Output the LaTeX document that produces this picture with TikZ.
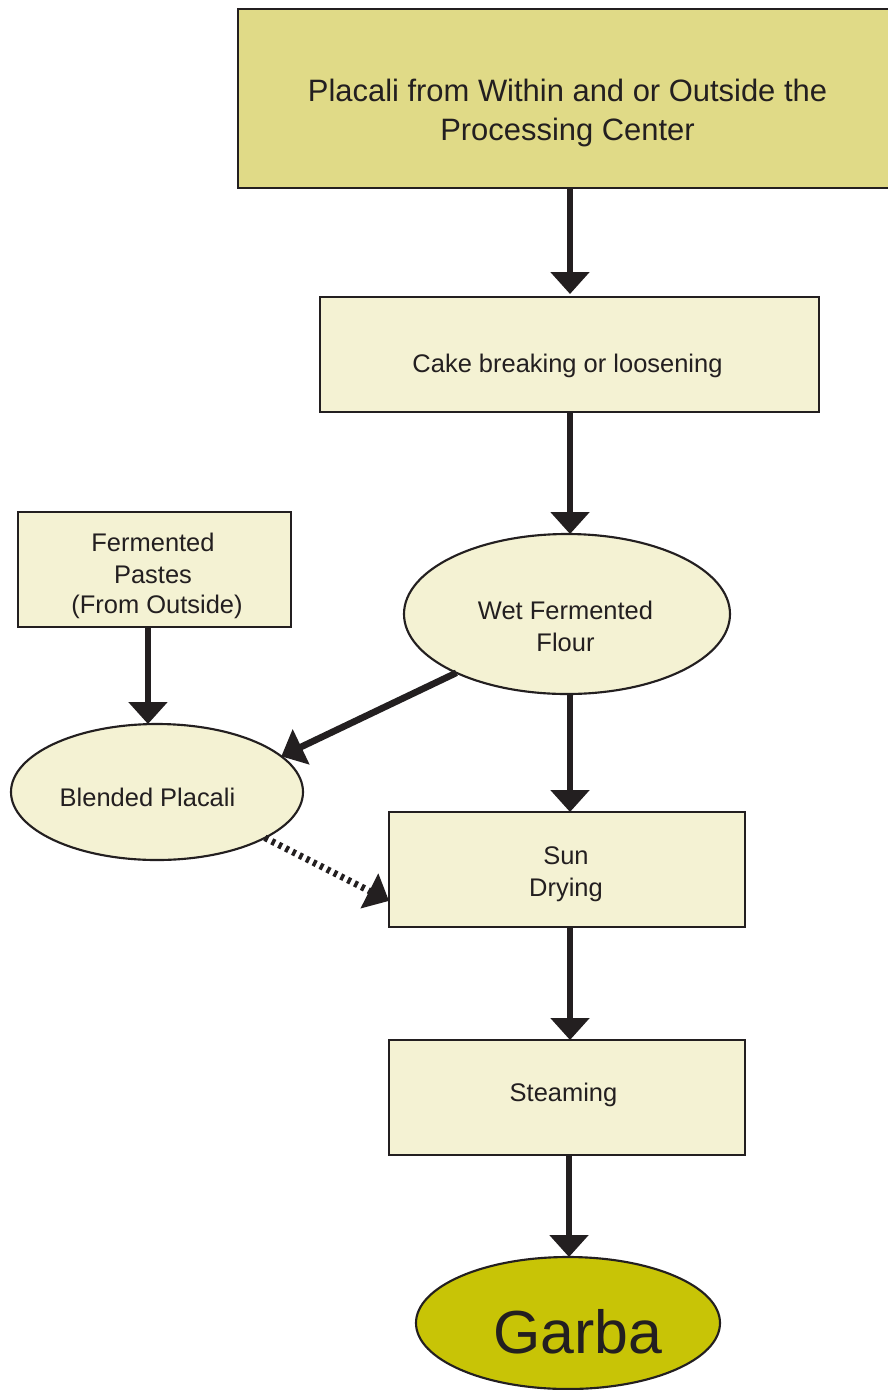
\documentclass[tikz,border=0pt]{standalone}
\usepackage{fontspec}
\setmainfont{Liberation Sans}
\usetikzlibrary{arrows.meta,shapes.geometric}
\definecolor{ink}{HTML}{231F20}
\definecolor{topfill}{HTML}{E0DA87}
\definecolor{lightfill}{HTML}{F4F2D3}
\definecolor{garbafill}{HTML}{C8C406}
\begin{document}
\begin{tikzpicture}[x=0.75pt,y=-0.75pt,
  box/.style={draw=ink, line width=1.6pt, fill=lightfill, rectangle, inner sep=0pt, outer sep=0pt},
  oval/.style={draw=ink, line width=1.6pt, fill=lightfill, ellipse, inner sep=0pt, outer sep=0pt},
  txt/.style={text=ink, font=\fontsize{19.1pt}{23pt}\selectfont, inner sep=0pt, anchor=base},
  bigtxt/.style={txt, font=\fontsize{23.2pt}{28pt}\selectfont},
  arr/.style={draw=ink, line width=5pt, -{Triangle[length=16.5pt,width=28.5pt]}},
  dotarr/.style={arr, dash pattern=on 2.6pt off 3.2pt},
]
\useasboundingbox (0,0) rectangle (888,1390);
\fill[white] (0,0) rectangle (888,1390);

% shapes
\node[box, fill=topfill, minimum width=662*0.75pt, minimum height=179*0.75pt] (src) at (569,98.5) {};
\node[box, minimum width=499*0.75pt, minimum height=115*0.75pt] (cake) at (569.5,354.5) {};
\node[oval, minimum width=326*0.75pt, minimum height=160*0.75pt] (wet) at (567,614) {};
\node[box, minimum width=273*0.75pt, minimum height=115*0.75pt] (ferm) at (154.5,569.5) {};
\node[oval, minimum width=292*0.75pt, minimum height=136*0.75pt] (blend) at (157,792) {};
\node[box, minimum width=356*0.75pt, minimum height=115*0.75pt] (sun) at (567,869.5) {};
\node[box, minimum width=356*0.75pt, minimum height=115*0.75pt] (steam) at (567,1097.5) {};
\node[oval, fill=garbafill, minimum width=304*0.75pt, minimum height=132*0.75pt] (garba) at (568,1323) {};

% texts
\node[bigtxt] (srcA) at (567.5,101) {Placali from Within and or Outside the};
\node[bigtxt] (srcB) at (567.5,140) {Processing Center};
\node[txt] (cakeA) at (567.5,372) {Cake breaking or loosening};
\node[txt] (wetA) at (565.5,619) {Wet Fermented};
\node[txt] (wetB) at (565.5,651.5) {Flour};
\node[txt] (fermA) at (153,551) {Fermented};
\node[txt] (fermB) at (153,583) {Pastes};
\node[txt] (fermC) at (157,613.5) {(From Outside)};
\node[txt] (blendA) at (147.5,806) {Blended Placali};
\node[txt] (sunA) at (566,864) {Sun};
\node[txt] (sunB) at (566,896) {Drying};
\node[txt] (steamA) at (563.5,1101) {Steaming};
\node[txt, font=\fontsize{45.6pt}{50pt}\selectfont] (garbaA) at (577.5,1353) {Garba};

% connectors
\draw[arr, shorten >=2.25pt] ([xshift=0.75pt]src.south) -- ([xshift=0.75pt]src.south |- cake.north);
\draw[arr] ([xshift=0.4pt]cake.south) -- ([xshift=0.4pt]cake.south |- wet.north);
\draw[arr] ([xshift=-4.9pt]ferm.south) -- ([xshift=-4.9pt]ferm.south |- blend.north);
\draw[arr] (wet.208) -- (blend.16);
\draw[arr] ([xshift=2.25pt]wet.south) -- ([xshift=2.25pt]wet.south |- sun.north);
\draw[dotarr] (blend.337) -- (sun.190);
\draw[arr] ([xshift=2.25pt]sun.south) -- ([xshift=2.25pt]sun.south |- steam.north);
\draw[arr] ([xshift=1.5pt]steam.south) -- ([xshift=1.5pt]steam.south |- garba.north);
\end{tikzpicture}
\end{document}
